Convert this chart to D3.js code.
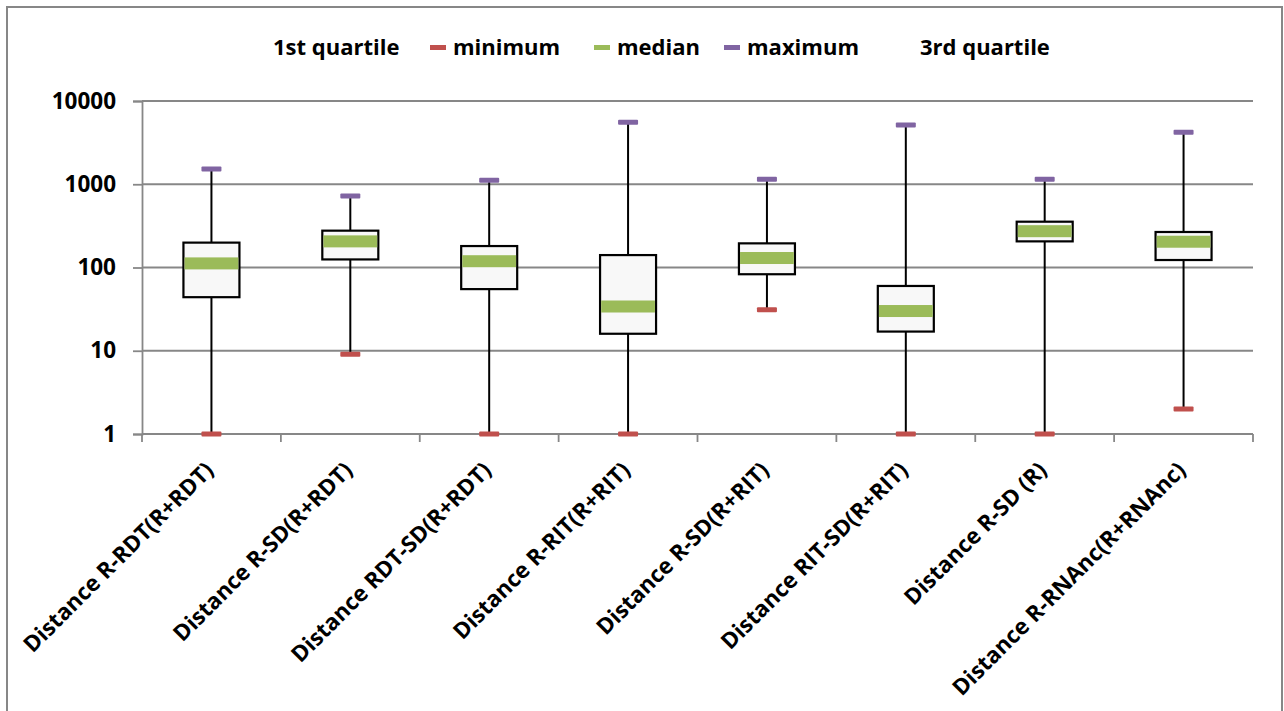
<!DOCTYPE html>
<html>
<head>
<meta charset="utf-8">
<script src="https://cdn.jsdelivr.net/npm/d3@7"></script>
<style>
  html, body { margin: 0; padding: 0; background: #fff; }
  svg { display: block; }
  text { font-family: "Open Sans", "DejaVu Sans", sans-serif; font-weight: 700; fill: #000; }
</style>
</head>
<body>
<svg id="chart" width="1284" height="711"></svg>
<script>
// Distance distributions per comparison (log scale)
const categories = [
  "Distance R-RDT(R+RDT)",
  "Distance R-SD(R+RDT)",
  "Distance RDT-SD(R+RDT)",
  "Distance R-RIT(R+RIT)",
  "Distance R-SD(R+RIT)",
  "Distance RIT-SD(R+RIT)",
  "Distance R-SD (R)",
  "Distance R-RNAnc(R+RNAnc)"
];
const minimum = [1, 9.1, 1, 1, 31, 1, 1, 2];
const firstQuartile = [44, 125, 55, 16, 83, 17, 206, 123];
const median = [112, 206, 119, 34, 130, 30, 273, 204];
const thirdQuartile = [199, 277, 181, 141, 195, 60, 355, 267];
const maximum = [1525, 722, 1115, 5547, 1146, 5150, 1147, 4208];
const yTicks = [1, 10, 100, 1000, 10000];
const legendLabels = ["1st quartile", "minimum", "median", "maximum", "3rd quartile"];

const colors = { min: "#C0504D", median: "#9BBB59", max: "#8064A2", grid: "#878787", box: "#F8F8F8" };

const svg = d3.select("#chart");
const plot = { left: 142, right: 1253, top: 101, bottom: 434 };

// outer chart frame
svg.append("rect")
  .attr("x", 7).attr("y", 7).attr("width", 1275).attr("height", 740)
  .attr("fill", "#fff").attr("stroke", colors.grid).attr("stroke-width", 2);

const x = d3.scaleBand().domain(categories).range([plot.left, plot.right]).padding(0);
const y = d3.scaleLog().domain([1, 10000]).range([plot.bottom, plot.top]);

// horizontal gridlines
svg.append("g").selectAll("line")
  .data(yTicks.slice(1))
  .join("line")
  .attr("x1", plot.left).attr("x2", plot.right)
  .attr("y1", d => y(d)).attr("y2", d => y(d))
  .attr("stroke", colors.grid).attr("stroke-width", 1.8);

// y axis
const yAxis = svg.append("g")
  .attr("transform", `translate(${plot.left},0)`)
  .call(d3.axisLeft(y).tickValues(yTicks).tickFormat(d3.format("d")).tickSize(9).tickPadding(17));
yAxis.select(".domain").attr("stroke", colors.grid).attr("stroke-width", 1.8);
yAxis.selectAll(".tick line").attr("stroke", colors.grid).attr("stroke-width", 1.8);
yAxis.selectAll(".tick text")
  .attr("font-size", 22.5).attr("font-family", "'Open Sans', sans-serif").attr("font-weight", 700)
  .attr("fill", "#000");

// x axis: line plus ticks between categories
const xAxis = svg.append("g").attr("transform", `translate(0,${plot.bottom})`);
xAxis.append("line")
  .attr("x1", plot.left).attr("x2", plot.right)
  .attr("stroke", colors.grid).attr("stroke-width", 1.8);
const boundaries = categories.map(c => x(c)).concat([x(categories[categories.length - 1]) + x.bandwidth()]);
xAxis.selectAll("line.tick")
  .data(boundaries)
  .join("line").attr("class", "tick")
  .attr("x1", d => d).attr("x2", d => d)
  .attr("y1", 0).attr("y2", 8)
  .attr("stroke", colors.grid).attr("stroke-width", 1.8);

// rotated category labels
svg.append("g").selectAll("text")
  .data(categories)
  .join("text")
  .attr("transform", d => `translate(${x(d) + x.bandwidth() / 2 - 2},${plot.bottom + 32}) rotate(-45)`)
  .attr("text-anchor", "end")
  .attr("dy", "0.35em")
  .attr("font-size", 22.5)
  .text(d => d);

const cx = i => x(categories[i]) + x.bandwidth() / 2;
const boxW = 56;
const idx = d3.range(categories.length);

// whiskers from minimum to maximum
svg.append("g").selectAll("line")
  .data(idx)
  .join("line")
  .attr("x1", cx).attr("x2", cx)
  .attr("y1", i => y(minimum[i])).attr("y2", i => y(maximum[i]))
  .attr("stroke", "#000").attr("stroke-width", 2);

// quartile boxes
svg.append("g").selectAll("rect")
  .data(idx)
  .join("rect")
  .attr("x", i => cx(i) - boxW / 2)
  .attr("y", i => y(thirdQuartile[i]))
  .attr("width", boxW)
  .attr("height", i => y(firstQuartile[i]) - y(thirdQuartile[i]))
  .attr("fill", colors.box).attr("stroke", "#000").attr("stroke-width", 2.2);

// median bars
svg.append("g").selectAll("rect")
  .data(idx)
  .join("rect")
  .attr("x", i => cx(i) - boxW / 2 + 1.1)
  .attr("y", i => y(median[i]) - 6)
  .attr("width", boxW - 2.2).attr("height", 12)
  .attr("fill", colors.median);

// minimum and maximum markers
function markers(values, color) {
  svg.append("g").selectAll("rect")
    .data(idx)
    .join("rect")
    .attr("x", i => cx(i) - 10)
    .attr("y", i => y(values[i]) - 2.5)
    .attr("width", 20).attr("height", 5).attr("rx", 1)
    .attr("fill", color);
}
markers(minimum, colors.min);
markers(maximum, colors.max);

// legend
const legendItems = [
  { label: legendLabels[0], color: null, x: 273 },
  { label: legendLabels[1], color: colors.min, x: 453 },
  { label: legendLabels[2], color: colors.median, x: 617 },
  { label: legendLabels[3], color: colors.max, x: 747 },
  { label: legendLabels[4], color: null, x: 920 }
];
const legend = svg.append("g");
legend.selectAll("rect")
  .data(legendItems.filter(d => d.color))
  .join("rect")
  .attr("x", d => d.x - 23).attr("y", 45).attr("width", 16).attr("height", 5)
  .attr("fill", d => d.color);
legend.selectAll("text")
  .data(legendItems)
  .join("text")
  .attr("x", d => d.x).attr("y", 47)
  .attr("dy", "0.35em")
  .attr("font-size", 22)
  .text(d => d.label);
</script>
</body>
</html>
